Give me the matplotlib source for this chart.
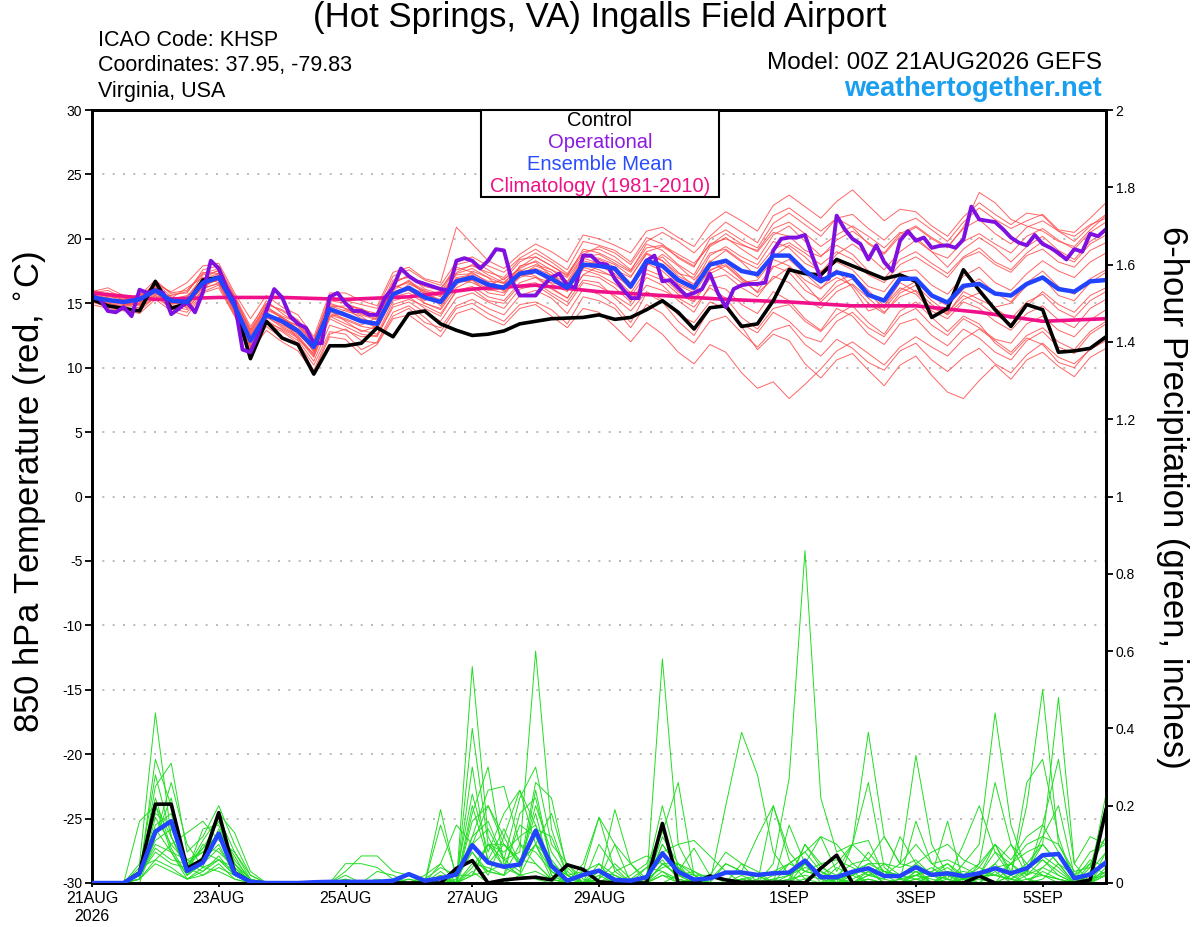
import numpy as np
import matplotlib
matplotlib.use('Agg')
import matplotlib.pyplot as plt
from matplotlib.patches import Rectangle

plt.rcParams['font.family'] = ['Liberation Sans', 'DejaVu Sans']

# ---- data: 6-hourly GEFS run from 00Z 21AUG2026 ----
step_hours = 6
op_step_hours = 3
clim_step_hours = 24

tick_days = [0, 2, 4, 6, 8, 11, 13, 15]
tick_labels = ['21AUG\n2026', '23AUG', '25AUG', '27AUG', '29AUG', '1SEP', '3SEP', '5SEP']

control_t = [
    15.3, 14.8, 14.6, 14.4, 16.7, 14.6, 15.0, 16.8, 17.0, 14.9, 10.7, 13.6, 12.3,
    11.8, 9.5, 11.7, 11.7, 11.9, 13.1, 12.4, 14.2, 14.4, 13.4, 12.9, 12.5, 12.6,
    12.85, 13.4, 13.6, 13.8, 13.85, 13.9, 14.1, 13.75, 13.9, 14.5, 15.2, 14.3, 13.0,
    14.65, 14.8, 13.2, 13.4, 15.2, 17.6, 17.3, 17.2, 18.4, 17.9, 17.4, 16.9, 17.2,
    16.7, 13.9, 14.6, 17.6, 16.0, 14.5, 13.2, 14.9, 14.5, 11.2, 11.3, 11.5, 12.4]

mean_t = [
    15.45, 15.25, 15.1, 15.3, 16.0, 15.2, 15.1, 16.6, 17.0, 14.8, 12.1, 14.1, 13.6,
    12.85, 11.6, 14.55, 14.1, 13.6, 13.4, 15.7, 16.2, 15.45, 15.1, 16.7, 17.0, 16.45,
    16.2, 17.3, 17.5, 16.9, 16.2, 18.0, 17.9, 17.7, 16.3, 18.3, 17.9, 16.8, 16.2,
    18.0, 18.3, 17.5, 17.25, 18.7, 18.7, 17.5, 16.7, 17.4, 17.1, 15.65, 15.2, 16.9,
    16.9, 15.6, 15.05, 16.35, 16.5, 15.75, 15.6, 16.5, 17.0, 16.1, 15.9, 16.7, 16.8]

# operational run is 3-hourly
oper_t = [
    15.6, 15.3, 14.4, 14.3, 14.7, 14.0, 16.05, 15.8, 16.0, 15.8, 14.15, 14.6, 15.1, 14.3, 15.85, 18.3,
    17.7, 16.2, 15.1, 11.4, 11.2, 12.6, 14.4, 16.1, 15.45, 14.0, 13.4, 13.1, 11.9, 11.9, 15.5, 15.8,
    15.0, 14.4, 14.4, 14.1, 14.1, 15.45, 16.2, 17.7, 17.1, 16.7, 16.5, 16.3, 16.1, 16.0, 18.3, 18.5,
    18.3, 17.7, 18.3, 19.2, 19.1, 16.75, 15.6, 15.6, 15.6, 16.4, 17.0, 17.3, 16.4, 16.2, 18.7, 18.7,
    18.1, 18.0, 16.9, 16.1, 15.4, 15.4, 18.3, 18.7, 16.7, 16.8, 16.2, 15.6, 15.8, 16.1, 17.3, 15.8,
    14.7, 16.1, 16.4, 16.5, 16.5, 16.6, 19.1, 20.0, 20.1, 20.1, 20.3, 18.55, 16.9, 16.9, 21.8, 20.75,
    20.0, 19.6, 18.4, 19.5, 18.2, 17.5, 19.85, 20.6, 19.85, 20.1, 19.3, 19.45, 19.5, 19.3, 19.95, 22.5,
    21.5, 21.4, 21.3, 20.75, 20.1, 19.7, 19.5, 20.3, 19.6, 19.3, 18.9, 18.4, 19.2, 19.0, 20.4, 20.2,
    20.75]

# climatology, daily
clim_t = [15.8, 15.3, 15.45, 15.45, 15.3, 15.5, 16.1, 16.4, 15.9, 15.6, 15.3,
          15.1, 14.8, 14.8, 14.3, 13.6, 13.8]

members_t = [
    [15.6, 15.8, 15.2, 15.0, 16.3, 15.0, 15.4, 17.2, 17.5, 15.2, 12.6, 14.6, 13.9,
     13.0, 11.2, 13.9, 14.5, 14.2, 13.8, 16.5, 17.2, 16.1, 15.7, 17.4, 18.0, 17.2,
     16.6, 17.8, 18.6, 17.9, 17.1, 19.2, 18.9, 18.3, 17.5, 19.6, 19.1, 18.0, 17.2,
     19.4, 20.1, 19.2, 18.4, 20.3, 21.0, 19.8, 18.7, 19.5, 18.8, 17.5, 16.9, 18.4,
     19.0, 18.1, 17.3, 18.6, 19.3, 18.2, 17.6, 18.9, 19.8, 18.7, 18.2, 19.6, 20.3],
    [15.2, 14.9, 14.6, 14.4, 15.5, 14.6, 14.3, 15.9, 16.4, 14.1, 11.3, 13.4, 12.8,
     11.9, 10.2, 12.8, 12.6, 11.4, 12.0, 14.3, 14.8, 13.9, 12.8, 14.6, 15.0, 14.2,
     13.6, 14.9, 15.1, 14.5, 13.4, 15.5, 15.2, 14.6, 13.1, 14.9, 14.2, 12.8, 11.9,
     13.6, 14.0, 12.7, 11.6, 12.9, 13.3, 11.8, 10.9, 12.2, 11.5, 10.4, 9.8, 11.3,
     11.9, 10.6, 9.7, 10.8, 11.5, 10.3, 9.6, 11.0, 11.9, 10.8, 10.3, 11.4, 12.1],
    [15.8, 15.5, 15.4, 15.6, 16.8, 15.7, 15.8, 17.6, 17.9, 15.6, 13.2, 15.0, 14.4,
     13.6, 12.1, 15.3, 15.2, 14.9, 14.6, 17.1, 17.6, 16.8, 16.4, 18.2, 18.6, 17.9,
     17.4, 18.5, 19.2, 18.4, 17.6, 19.8, 19.5, 19.1, 18.2, 20.1, 19.6, 18.5, 17.8,
     20.0, 20.7, 19.9, 19.3, 21.2, 22.0, 21.1, 20.2, 21.6, 21.9, 20.8, 19.9, 21.1,
     21.6, 20.7, 19.8, 21.3, 22.4, 21.5, 20.8, 21.4, 21.9, 20.7, 20.5, 21.6, 22.8],
    [15.0, 15.3, 15.0, 14.8, 16.0, 15.4, 16.2, 17.0, 16.6, 14.5, 11.8, 13.8, 13.9,
     13.2, 11.9, 14.9, 14.6, 13.8, 13.5, 16.0, 16.8, 15.7, 15.3, 17.0, 17.2, 16.4,
     16.9, 17.6, 17.1, 16.2, 15.4, 17.2, 17.9, 17.3, 16.1, 18.0, 18.6, 17.4, 16.3,
     17.5, 18.2, 17.0, 15.8, 16.9, 17.8, 16.5, 15.1, 16.3, 16.9, 15.8, 14.6, 16.0,
     16.7, 15.5, 14.8, 16.1, 16.9, 15.8, 15.1, 16.6, 17.5, 16.3, 15.7, 16.9, 17.6],
    [15.4, 15.0, 14.8, 15.2, 15.8, 14.9, 14.7, 16.4, 17.2, 15.0, 12.4, 14.4, 13.2,
     12.5, 11.0, 14.2, 13.8, 13.3, 13.9, 16.4, 16.0, 15.2, 15.8, 17.8, 17.4, 16.6,
     16.0, 17.9, 18.2, 17.1, 16.4, 18.5, 18.1, 17.6, 17.0, 18.9, 18.3, 17.1, 16.5,
     18.7, 19.4, 18.6, 18.0, 19.8, 19.3, 18.1, 17.5, 18.2, 17.6, 16.3, 15.9, 17.4,
     17.6, 16.4, 15.7, 17.1, 17.8, 16.6, 16.0, 17.3, 18.3, 17.5, 17.0, 18.2, 18.9],
    [15.9, 16.2, 15.6, 15.5, 16.5, 15.9, 16.6, 17.9, 18.1, 15.8, 13.8, 15.6, 14.7,
     14.1, 12.4, 15.8, 15.8, 15.2, 14.8, 17.4, 17.8, 16.9, 16.6, 20.9, 19.6, 18.3,
     17.7, 18.8, 19.6, 19.0, 18.2, 20.3, 20.0, 19.5, 18.9, 20.6, 20.9, 20.1, 19.4,
     21.2, 22.1, 21.4, 20.6, 22.6, 23.4, 22.5, 21.6, 22.9, 23.8, 22.6, 21.4, 22.3,
     22.1, 21.0, 20.2, 21.7, 22.8, 21.9, 21.1, 22.0, 21.8, 20.6, 19.8, 21.0, 21.9],
    [15.3, 15.1, 14.9, 14.6, 15.6, 15.2, 14.9, 16.2, 16.5, 14.2, 11.6, 13.2, 12.3,
     11.8, 9.8, 12.6, 13.0, 12.1, 11.9, 14.0, 14.6, 13.5, 13.1, 14.8, 15.3, 14.6,
     14.1, 15.6, 16.0, 15.4, 14.2, 16.1, 15.7, 14.9, 13.5, 15.8, 15.1, 13.6, 12.5,
     14.6, 15.0, 13.2, 11.4, 12.6, 12.1, 10.3, 9.2, 10.6, 11.1, 9.8, 8.6, 10.2,
     10.9, 9.4, 8.1, 7.6, 9.0, 10.2, 9.1, 10.6, 11.2, 10.1, 9.3, 10.8, 11.5],
    [15.1, 14.7, 14.5, 14.2, 15.3, 14.4, 14.0, 15.8, 16.2, 14.0, 11.2, 12.9, 12.0,
     11.3, 9.6, 12.4, 12.2, 11.0, 11.8, 13.8, 14.1, 13.2, 12.4, 14.2, 14.6, 13.8,
     13.3, 14.6, 14.9, 14.0, 13.1, 14.6, 14.3, 13.2, 12.0, 13.5, 12.6, 11.2, 10.3,
     11.8, 11.2, 9.6, 8.4, 8.9, 7.6, 8.7, 9.9, 11.3, 12.0, 11.1, 10.2, 11.6,
     12.4, 11.6, 10.9, 12.2, 13.0, 12.1, 11.2, 12.5, 13.1, 12.0, 11.4, 12.8, 13.6],
    [15.5, 15.6, 15.3, 15.7, 16.2, 15.3, 15.5, 16.9, 17.3, 15.1, 12.2, 14.2, 13.5,
     12.7, 11.4, 14.8, 14.4, 14.0, 13.0, 15.4, 16.5, 15.9, 14.8, 16.4, 17.5, 17.0,
     15.9, 17.1, 17.9, 17.4, 16.0, 17.7, 18.4, 17.8, 16.6, 17.9, 18.8, 17.9, 16.8,
     18.2, 19.1, 18.2, 17.0, 18.6, 19.5, 18.6, 17.4, 18.8, 19.6, 18.7, 17.6, 19.0,
     19.9, 19.0, 17.8, 19.2, 20.1, 19.3, 18.2, 19.4, 20.2, 19.1, 18.4, 19.8, 20.6],
    [15.7, 15.4, 15.1, 15.3, 16.6, 15.5, 14.6, 16.0, 17.4, 15.4, 12.9, 14.8, 13.8,
     12.2, 11.1, 14.5, 13.6, 12.8, 13.2, 15.9, 16.3, 15.0, 14.6, 16.6, 16.8, 15.8,
     15.6, 17.3, 17.6, 16.5, 15.9, 18.0, 17.6, 17.0, 15.8, 17.6, 17.1, 15.9, 15.2,
     17.3, 17.9, 16.8, 15.9, 17.8, 18.4, 17.3, 16.2, 17.0, 16.4, 15.0, 14.2, 15.8,
     16.4, 15.2, 14.3, 15.6, 15.0, 14.1, 13.4, 14.8, 15.9, 14.9, 14.3, 15.6, 16.2],
    [15.2, 15.5, 15.5, 15.1, 16.1, 15.1, 15.2, 16.8, 16.9, 14.6, 11.9, 14.0, 13.7,
     13.3, 11.8, 14.3, 14.0, 13.6, 13.1, 15.6, 16.2, 15.8, 15.1, 16.9, 17.1, 16.2,
     16.4, 17.4, 17.7, 17.2, 16.6, 18.3, 18.0, 17.5, 16.2, 18.1, 17.5, 16.4, 15.8,
     17.6, 18.0, 16.9, 16.3, 17.9, 17.4, 16.0, 15.3, 16.7, 17.2, 16.0, 14.8, 16.2,
     15.7, 14.4, 13.8, 15.1, 14.6, 13.6, 12.9, 14.2, 14.8, 13.7, 13.1, 14.6, 15.3],
    [16.0, 15.7, 15.0, 14.9, 15.7, 15.6, 15.9, 17.3, 17.7, 15.5, 13.0, 15.2, 14.2,
     13.4, 12.0, 15.6, 15.0, 14.5, 14.2, 16.8, 17.0, 16.3, 16.0, 18.0, 18.3, 17.6,
     16.8, 18.2, 18.9, 18.2, 17.3, 19.0, 19.2, 18.6, 17.6, 19.3, 19.5, 18.8, 18.1,
     19.5, 20.4, 19.6, 19.0, 20.5, 20.2, 19.1, 18.6, 19.9, 20.6, 19.7, 18.9, 20.4,
     21.0, 20.1, 19.4, 20.8, 21.5, 20.4, 19.6, 20.9, 21.4, 20.6, 20.2, 21.1, 21.6],
    [15.3, 15.0, 15.2, 15.4, 16.4, 15.0, 15.0, 16.5, 16.8, 14.7, 12.0, 14.2, 13.4,
     12.6, 11.5, 14.4, 14.2, 13.7, 13.5, 15.8, 16.0, 15.4, 15.2, 16.8, 16.6, 16.0,
     16.1, 17.2, 17.0, 16.6, 16.3, 17.8, 17.4, 17.1, 16.4, 18.4, 17.8, 16.5, 16.0,
     18.3, 17.5, 16.6, 16.8, 18.4, 17.9, 16.8, 16.1, 17.6, 16.2, 14.4, 14.8, 16.6,
     15.9, 14.6, 14.2, 15.9, 15.3, 14.7, 15.0, 16.4, 17.0, 15.6, 15.2, 16.6, 17.4],
    [15.6, 15.2, 14.9, 15.0, 15.9, 15.3, 15.6, 16.7, 17.1, 14.9, 12.3, 14.0, 13.1,
     12.4, 10.9, 14.0, 13.4, 12.9, 12.6, 15.2, 15.5, 14.6, 14.0, 16.0, 16.3, 15.5,
     15.2, 16.6, 17.0, 16.1, 15.4, 17.2, 17.0, 16.2, 15.1, 17.0, 16.4, 15.2, 14.3,
     16.4, 16.1, 14.9, 14.2, 15.9, 15.2, 13.8, 12.9, 14.6, 14.0, 12.6, 11.8, 13.4,
     13.8, 12.5, 11.7, 13.0, 12.3, 11.2, 10.6, 12.1, 12.8, 11.6, 11.1, 12.6, 13.4],
    [15.4, 15.3, 15.2, 15.5, 16.2, 15.2, 15.3, 16.6, 17.1, 15.0, 12.5, 14.5, 13.9,
     13.0, 11.7, 14.7, 14.8, 14.6, 13.9, 16.2, 16.7, 16.0, 15.5, 17.3, 17.7, 17.0,
     16.5, 17.5, 18.0, 17.6, 17.0, 18.6, 18.5, 18.0, 17.1, 18.8, 18.3, 17.3, 17.0,
     18.9, 19.2, 18.3, 17.7, 19.2, 19.7, 18.9, 18.0, 19.0, 18.4, 17.2, 16.6, 18.0,
     18.6, 17.8, 17.0, 18.5, 19.0, 18.0, 17.4, 18.7, 19.2, 18.2, 17.8, 19.1, 19.7],
    [14.9, 14.6, 14.4, 14.7, 15.4, 14.8, 14.5, 16.1, 16.6, 14.4, 11.5, 13.7, 12.9,
     12.1, 10.5, 13.3, 12.9, 12.4, 12.5, 14.7, 15.1, 14.3, 13.6, 15.4, 15.8, 15.1,
     14.6, 16.1, 16.4, 15.6, 14.8, 16.6, 16.3, 15.6, 14.8, 16.4, 16.0, 15.4, 14.7,
     16.2, 15.4, 13.9, 13.0, 14.6, 14.9, 13.6, 12.8, 14.1, 14.8, 13.5, 12.6, 14.4,
     15.1, 13.9, 12.8, 14.0, 13.4, 11.9, 11.0, 12.3, 11.8, 10.4, 10.0, 11.5, 12.2],
    [15.8, 16.0, 15.4, 15.1, 16.7, 15.8, 16.0, 17.4, 17.3, 15.3, 12.8, 14.9, 14.5,
     13.7, 12.2, 15.2, 15.0, 14.4, 14.0, 16.6, 17.1, 16.5, 16.2, 17.6, 17.9, 17.4,
     17.0, 18.4, 18.6, 17.9, 17.2, 18.8, 19.4, 18.9, 18.0, 19.8, 20.5, 19.8, 18.9,
     20.2, 21.3, 20.5, 19.7, 21.8, 22.4, 21.5, 20.6, 21.6, 20.9, 19.6, 18.8, 20.2,
     20.9, 20.0, 19.3, 20.9, 23.6, 22.8, 21.5, 21.0, 20.6, 19.8, 19.4, 20.7, 21.8],
    [15.1, 15.4, 15.0, 14.9, 15.6, 14.7, 14.8, 16.3, 16.9, 14.3, 11.7, 13.5, 13.0,
     12.3, 10.8, 13.8, 13.2, 12.6, 12.4, 14.9, 15.3, 14.8, 14.2, 15.9, 16.1, 15.2,
     15.0, 16.4, 16.6, 15.8, 15.1, 16.8, 16.6, 15.4, 14.4, 15.9, 15.3, 14.1, 13.5,
     15.1, 14.6, 13.4, 12.7, 14.3, 13.6, 12.4, 12.0, 13.6, 14.3, 13.1, 12.4, 14.0,
     14.6, 13.3, 12.5, 13.8, 13.1, 12.2, 11.9, 13.4, 14.0, 12.9, 12.4, 13.7, 14.5],
    [15.5, 15.2, 15.3, 15.6, 16.3, 15.4, 15.1, 16.9, 17.6, 15.4, 12.7, 14.7, 14.0,
     13.5, 11.9, 15.0, 14.6, 14.1, 13.7, 16.2, 16.6, 15.9, 15.6, 17.2, 17.3, 16.7,
     16.6, 17.7, 18.3, 17.6, 16.7, 18.6, 18.8, 18.1, 17.4, 19.0, 19.4, 18.6, 17.9,
     19.6, 20.0, 19.5, 19.1, 20.8, 21.3, 20.4, 19.4, 20.3, 21.0, 20.2, 19.3, 20.5,
     20.1, 19.0, 18.5, 19.8, 20.4, 19.6, 18.9, 20.2, 20.8, 19.9, 19.2, 20.5, 21.3],
    [15.2, 15.0, 14.7, 15.0, 15.8, 15.0, 14.9, 16.4, 16.8, 14.6, 12.0, 13.9, 13.3,
     12.7, 11.3, 14.1, 13.7, 13.2, 13.0, 15.5, 15.8, 15.0, 14.5, 16.2, 16.8, 16.1,
     15.8, 17.0, 17.4, 16.8, 16.0, 17.6, 17.2, 16.5, 15.5, 17.3, 16.8, 15.7, 15.1,
     16.9, 17.2, 16.2, 15.5, 17.1, 16.6, 15.3, 14.6, 15.9, 16.5, 15.4, 14.3, 15.5,
     16.0, 14.9, 14.1, 15.3, 15.8, 14.6, 13.8, 15.1, 15.7, 14.5, 13.9, 15.2, 15.9],
]

control_p = [
    0, 0, 0, 0.027, 0.204, 0.204, 0.038, 0.061, 0.182, 0.027, 0.003, 0, 0,
    0, 0, 0, 0, 0, 0, 0, 0, 0, 0, 0.038, 0.058, 0,
    0.008, 0.012, 0.015, 0.008, 0.047, 0.035, 0.003, 0, 0, 0, 0.154, 0, 0,
    0.018, 0.008, 0.002, 0.002, 0.002, 0.002, 0, 0.038, 0.072, 0, 0, 0, 0,
    0, 0, 0, 0, 0.018, 0, 0, 0, 0, 0, 0, 0.008, 0.19]

mean_p = [
    0, 0, 0, 0.025, 0.133, 0.16, 0.031, 0.053, 0.128, 0.025, 0.003, 0, 0,
    0, 0.002, 0.003, 0.003, 0.003, 0.003, 0.006, 0.023, 0.006, 0.012, 0.022, 0.098, 0.053,
    0.042, 0.048, 0.135, 0.044, 0.006, 0.021, 0.032, 0.008, 0.006, 0.015, 0.077, 0.029, 0.009,
    0.012, 0.027, 0.027, 0.021, 0.025, 0.027, 0.058, 0.015, 0.015, 0.029, 0.038, 0.018, 0.018,
    0.041, 0.021, 0.025, 0.018, 0.025, 0.038, 0.025, 0.038, 0.072, 0.075, 0.012, 0.022, 0.053]

members_p = [
    [0, 0, 0, 0.05, 0.44, 0.12, 0.03, 0.06, 0.1, 0.02, 0, 0, 0,
     0, 0, 0, 0, 0, 0, 0, 0, 0, 0, 0, 0.56, 0.12,
     0.04, 0.02, 0.01, 0, 0.05, 0.01, 0, 0, 0, 0.02, 0.06, 0.01, 0,
     0, 0, 0, 0.02, 0, 0, 0.01, 0.03, 0, 0, 0.01, 0, 0,
     0, 0.02, 0.01, 0, 0, 0.04, 0.01, 0, 0.03, 0.01, 0, 0, 0.02],
    [0, 0, 0, 0.02, 0.32, 0.2, 0.04, 0.09, 0.16, 0.05, 0, 0, 0,
     0, 0, 0, 0, 0, 0, 0, 0.01, 0, 0.05, 0, 0.02, 0.1,
     0.06, 0.08, 0.6, 0.14, 0.02, 0, 0.03, 0, 0, 0, 0, 0.02, 0,
     0, 0, 0.01, 0, 0, 0, 0, 0, 0.04, 0.02, 0, 0, 0.01,
     0, 0, 0.03, 0, 0.01, 0, 0, 0.02, 0.06, 0.02, 0, 0.03, 0.08],
    [0, 0, 0, 0.01, 0.25, 0.31, 0.08, 0.12, 0.2, 0.1, 0.02, 0, 0,
     0, 0, 0, 0, 0, 0, 0, 0, 0, 0, 0.01, 0.08, 0.03,
     0.02, 0.05, 0.1, 0.03, 0, 0.05, 0.17, 0.1, 0.05, 0, 0.58, 0.1, 0.02,
     0, 0, 0.01, 0, 0, 0, 0, 0, 0, 0.03, 0, 0, 0,
     0.02, 0, 0, 0.01, 0, 0, 0.05, 0.01, 0, 0, 0, 0, 0.04],
    [0, 0, 0, 0.03, 0.18, 0.15, 0.05, 0.03, 0.07, 0.02, 0, 0, 0,
     0, 0, 0, 0.02, 0, 0, 0, 0, 0, 0, 0, 0.3, 0.05,
     0.1, 0.06, 0.05, 0.01, 0, 0, 0, 0.01, 0.01, 0.04, 0.03, 0, 0.01,
     0, 0, 0, 0, 0.05, 0.27, 0.86, 0.22, 0.08, 0.1, 0.11, 0.02, 0,
     0.03, 0, 0.01, 0, 0.02, 0, 0.02, 0, 0.01, 0.05, 0, 0, 0.06],
    [0, 0, 0, 0.02, 0.1, 0.08, 0.02, 0.05, 0.14, 0.06, 0.01, 0, 0,
     0, 0, 0, 0.01, 0, 0, 0, 0, 0, 0.02, 0, 0.18, 0.3,
     0.05, 0.02, 0.1, 0.01, 0, 0, 0, 0.03, 0, 0, 0.05, 0.02, 0.03,
     0, 0.2, 0.39, 0.28, 0.08, 0.02, 0, 0, 0.01, 0, 0, 0, 0,
     0.03, 0, 0, 0.05, 0.1, 0.44, 0.15, 0.03, 0.02, 0.01, 0, 0.02, 0.05],
    [0, 0, 0, 0, 0.12, 0.26, 0.1, 0.04, 0.06, 0.03, 0, 0, 0,
     0, 0, 0, 0, 0, 0, 0, 0.01, 0, 0.19, 0.01, 0.12, 0.24,
     0.25, 0.1, 0.08, 0.03, 0.01, 0, 0, 0, 0, 0, 0.12, 0.05, 0,
     0.02, 0.01, 0, 0, 0, 0, 0.05, 0.12, 0.03, 0.1, 0.39, 0.12, 0.05,
     0.04, 0, 0, 0.02, 0.05, 0.1, 0.02, 0.2, 0.5, 0.1, 0.02, 0, 0.08],
    [0, 0, 0, 0.01, 0.2, 0.12, 0.03, 0.1, 0.08, 0.04, 0, 0, 0,
     0, 0, 0, 0, 0, 0, 0, 0, 0.02, 0.05, 0.15, 0.1, 0.2,
     0.12, 0.24, 0.15, 0.02, 0, 0.03, 0.05, 0, 0, 0.02, 0.2, 0.04, 0,
     0, 0.05, 0.03, 0.12, 0.2, 0.06, 0.01, 0, 0.02, 0.05, 0.06, 0.12, 0.05,
     0.33, 0.1, 0.02, 0, 0.02, 0.05, 0, 0.03, 0.1, 0.48, 0.05, 0.12, 0.1],
    [0, 0, 0, 0.04, 0.06, 0.1, 0.13, 0.16, 0.11, 0.08, 0.02, 0, 0,
     0, 0, 0, 0, 0, 0, 0, 0, 0, 0, 0.02, 0.23, 0.08,
     0.18, 0.24, 0.1, 0.06, 0.01, 0, 0, 0, 0.02, 0.05, 0.13, 0.26, 0.02,
     0, 0, 0.01, 0, 0, 0, 0, 0, 0, 0, 0.03, 0, 0,
     0, 0.02, 0.16, 0, 0.05, 0.26, 0.1, 0.02, 0.15, 0.32, 0.05, 0, 0.02],
    [0, 0, 0, 0.02, 0.08, 0.05, 0.04, 0.02, 0.05, 0.01, 0, 0, 0,
     0, 0, 0, 0, 0, 0, 0, 0, 0, 0, 0, 0.12, 0.16,
     0.06, 0.22, 0.3, 0.1, 0.05, 0, 0.1, 0.04, 0, 0, 0.08, 0.1, 0.11,
     0.07, 0.03, 0, 0, 0, 0.15, 0.05, 0, 0, 0.1, 0.26, 0.04, 0.01,
     0.16, 0.05, 0.02, 0, 0, 0, 0.02, 0.26, 0.32, 0.12, 0, 0.02, 0.23],
    [0, 0, 0, 0.03, 0.22, 0.09, 0.02, 0.07, 0.12, 0.05, 0.01, 0, 0,
     0, 0, 0, 0, 0, 0.01, 0, 0, 0.01, 0.04, 0.02, 0.08, 0.02,
     0.12, 0.04, 0.26, 0.22, 0.03, 0, 0.01, 0.05, 0.01, 0, 0.02, 0, 0,
     0, 0, 0.02, 0, 0.2, 0.08, 0.03, 0.02, 0, 0, 0.02, 0.03, 0.01,
     0.02, 0.04, 0.01, 0.1, 0.2, 0.08, 0.02, 0.05, 0.1, 0.05, 0, 0.04, 0.19],
    [0, 0, 0, 0.16, 0.2, 0.08, 0.06, 0.04, 0.18, 0.13, 0.03, 0, 0,
     0, 0, 0, 0, 0, 0, 0, 0, 0, 0.03, 0, 0.05, 0.04,
     0.02, 0.18, 0.22, 0.05, 0.02, 0, 0.01, 0.1, 0, 0, 0.05, 0.02, 0.01,
     0, 0, 0, 0, 0, 0.02, 0.04, 0.03, 0.01, 0, 0.02, 0.01, 0,
     0.02, 0.03, 0.05, 0.02, 0, 0.05, 0.1, 0.05, 0.02, 0, 0, 0.05, 0.02],
    [0, 0, 0, 0.02, 0.15, 0.18, 0.02, 0.05, 0.09, 0.03, 0, 0, 0,
     0, 0, 0, 0.03, 0.07, 0.07, 0.03, 0.02, 0, 0.01, 0, 0.16, 0.2,
     0.1, 0.05, 0.18, 0.02, 0, 0, 0.03, 0.02, 0, 0.04, 0.07, 0.03, 0.09,
     0.02, 0, 0, 0, 0.01, 0, 0.03, 0.05, 0.06, 0.04, 0.02, 0.05, 0.04,
     0.06, 0.02, 0, 0.01, 0.03, 0.02, 0.05, 0.02, 0.04, 0.08, 0.01, 0.06, 0.04],
    [0, 0, 0, 0.01, 0.05, 0.03, 0.01, 0.02, 0.04, 0.02, 0, 0, 0,
     0, 0, 0, 0, 0, 0.03, 0.02, 0, 0, 0.15, 0.02, 0.02, 0.1,
     0.04, 0.15, 0.12, 0.03, 0, 0, 0.01, 0.19, 0.05, 0.01, 0.08, 0.03, 0.02,
     0.02, 0.08, 0.05, 0, 0.02, 0.05, 0.03, 0.02, 0.05, 0.1, 0.06, 0.02, 0.05,
     0.1, 0.05, 0.06, 0.04, 0.02, 0.08, 0.05, 0.1, 0.12, 0.1, 0.03, 0.04, 0.12],
    [0, 0, 0, 0.03, 0.12, 0.22, 0.03, 0.14, 0.15, 0.05, 0, 0, 0,
     0, 0, 0, 0, 0, 0, 0, 0, 0, 0, 0.03, 0.06, 0.03,
     0.05, 0.02, 0.24, 0.05, 0, 0, 0, 0, 0.01, 0, 0.05, 0.02, 0,
     0, 0, 0.05, 0.03, 0, 0, 0.1, 0.05, 0, 0.02, 0.08, 0.03, 0.02,
     0.05, 0.02, 0.03, 0.01, 0.04, 0.02, 0.01, 0.03, 0.12, 0.2, 0.02, 0.02, 0.05],
    [0, 0, 0, 0.02, 0.09, 0.06, 0.05, 0.08, 0.06, 0.02, 0, 0, 0,
     0, 0, 0, 0.05, 0.05, 0.04, 0.01, 0, 0, 0, 0, 0.04, 0.1,
     0.08, 0.12, 0.15, 0.04, 0.02, 0.03, 0.17, 0.03, 0.05, 0.07, 0.05, 0.05, 0.03,
     0.01, 0.05, 0.03, 0.02, 0.03, 0.05, 0.08, 0.12, 0.1, 0.05, 0.02, 0.01, 0.12,
     0.05, 0.08, 0.1, 0.06, 0.04, 0.1, 0.06, 0.12, 0.15, 0.08, 0.02, 0.05, 0.12],
    [0, 0, 0, 0.02, 0.14, 0.08, 0.01, 0.03, 0.06, 0.04, 0, 0, 0,
     0, 0, 0, 0, 0, 0, 0, 0, 0, 0, 0, 0.03, 0,
     0, 0.02, 0.03, 0.01, 0, 0, 0, 0, 0, 0, 0.03, 0.01, 0,
     0, 0, 0, 0, 0.01, 0.02, 0.05, 0.02, 0, 0.01, 0.03, 0, 0,
     0.01, 0, 0.02, 0.01, 0, 0.03, 0, 0.01, 0.02, 0.01, 0, 0, 0.03],
    [0, 0, 0, 0.03, 0.28, 0.12, 0.04, 0.11, 0.17, 0.08, 0.01, 0, 0,
     0, 0, 0, 0, 0, 0, 0, 0, 0, 0.02, 0, 0.1, 0.14,
     0.06, 0.03, 0.14, 0.12, 0.02, 0, 0.02, 0, 0, 0, 0.1, 0.04, 0.01,
     0, 0, 0, 0, 0, 0.01, 0.1, 0.04, 0.02, 0.03, 0.05, 0.05, 0.02,
     0.01, 0.02, 0.05, 0.01, 0.02, 0.1, 0.03, 0.04, 0.07, 0.04, 0, 0.02, 0.06],
    [0, 0, 0, 0.01, 0.06, 0.04, 0.01, 0.04, 0.03, 0.01, 0, 0, 0,
     0, 0, 0, 0, 0, 0, 0, 0, 0, 0, 0, 0.02, 0.03,
     0.02, 0.1, 0.05, 0.01, 0, 0, 0, 0, 0, 0, 0.02, 0.01, 0,
     0, 0, 0, 0, 0, 0.01, 0.02, 0.01, 0, 0.02, 0.04, 0, 0.01,
     0.02, 0.01, 0, 0.01, 0.02, 0.02, 0.01, 0, 0.04, 0.02, 0, 0.01, 0.02],
    [0, 0, 0, 0.02, 0.11, 0.14, 0.06, 0.08, 0.13, 0.07, 0, 0, 0,
     0, 0, 0, 0, 0, 0, 0, 0.02, 0, 0, 0, 0.2, 0.06,
     0.14, 0.05, 0.1, 0.18, 0.04, 0, 0, 0.02, 0, 0.01, 0.04, 0.05, 0.02,
     0, 0, 0, 0.01, 0.03, 0.02, 0.05, 0.02, 0.01, 0.02, 0.05, 0.03, 0.02,
     0.03, 0.02, 0.04, 0.01, 0.03, 0.04, 0.05, 0.08, 0.1, 0.05, 0.02, 0.08, 0.1],
    [0, 0, 0, 0.01, 0.17, 0.1, 0.05, 0.09, 0.12, 0.04, 0, 0, 0,
     0, 0, 0, 0.01, 0, 0, 0, 0, 0, 0.01, 0, 0.4, 0.1,
     0.1, 0.05, 0.2, 0.08, 0.02, 0, 0.05, 0.02, 0, 0, 0.1, 0.04, 0,
     0, 0, 0.01, 0.02, 0, 0.05, 0.08, 0.03, 0.01, 0, 0.01, 0, 0,
     0.01, 0, 0.02, 0.03, 0.02, 0.02, 0.01, 0.04, 0.06, 0.03, 0, 0.01, 0.03],
]

hours = np.arange(len(mean_t)) * step_hours
op_hours = np.arange(len(oper_t)) * op_step_hours
clim_hours = np.arange(len(clim_t)) * clim_step_hours

# ---- figure ----
W, H = 1200, 927
fig = plt.figure(figsize=(W / 100, H / 100), dpi=100)
ax = fig.add_axes([92 / W, 1 - 883 / H, (1106 - 92) / W, (883 - 110) / H])
ax2 = ax.twinx()

for m in members_t:
    ax.plot(hours, m, color='#ff4a4a', lw=0.7, alpha=0.85, zorder=2)
ax.plot(clim_hours, clim_t, color='#f0108a', lw=2.6, zorder=3)
ax.plot(hours, control_t, color='black', lw=2.6, zorder=4)
ax.plot(op_hours, oper_t, color='#7f10e0', lw=2.8, zorder=5)
ax.plot(hours, mean_t, color='#2244ff', lw=3.2, zorder=6)

for m in members_p:
    ax2.plot(hours, m, color='#22dd22', lw=0.7, zorder=2)
ax2.plot(hours, control_p, color='black', lw=2.6, zorder=4)
ax2.plot(hours, mean_p, color='#2244ff', lw=3.2, zorder=5)

ax.set_xlim(0, hours[-1])
ax.set_ylim(-30, 30)
ax2.set_ylim(0, 2)

ax.set_yticks(np.arange(-30, 31, 5))
ax.set_yticklabels([str(v) for v in range(-30, 31, 5)])
p_ticks = np.round(np.arange(0, 2.01, 0.2), 1)
ax2.set_yticks(p_ticks)
ax2.set_yticklabels(['%g' % v for v in p_ticks])

ax.set_xticks([d * 24 for d in tick_days])
ax.set_xticklabels(tick_labels)

for a in (ax, ax2):
    a.tick_params(direction='out', length=5, width=1.3, labelsize=10, pad=2)
    for s in a.spines.values():
        s.set_linewidth(2)
ax.tick_params(axis='x', labelsize=11.5, length=3, pad=3)

# dotted horizontal grid
for v in range(-25, 30, 5):
    ax.axhline(v, color='#b0b0b0', lw=1.2, linestyle=(0, (1.2, 5)), zorder=1)

# ---- text ----
fig.text(600 / W, 1 - 18 / H, '(Hot Springs, VA) Ingalls Field Airport',
         ha='center', va='center', fontsize=25)
fig.text(98 / W, 1 - 40 / H, 'ICAO Code: KHSP', va='center', fontsize=15.5)
fig.text(98 / W, 1 - 66 / H, 'Coordinates: 37.95, -79.83', va='center', fontsize=15.5)
fig.text(98 / W, 1 - 92 / H, 'Virginia, USA', va='center', fontsize=15.5)
fig.text(1102 / W, 1 - 63 / H, 'Model: 00Z 21AUG2026 GEFS', ha='right', va='center', fontsize=17.5)
fig.text(1102 / W, 1 - 89 / H, 'weathertogether.net', ha='right', va='center',
         fontsize=19.5, fontweight='bold', color='#1a9ff0')

fig.text(30 / W, 1 - 492 / H, '850 hPa Temperature (red, $^{\\circ}$C)', rotation=90,
         ha='center', va='center', fontsize=25)
fig.text(1172 / W, 1 - 497 / H, '6-hour Precipitation (green, inches)', rotation=270,
         ha='center', va='center', fontsize=25)

# legend box
rect = Rectangle((481 / W, 1 - 197 / H), (719 - 481) / W, (197 - 110) / H,
                 transform=fig.transFigure, facecolor='white', edgecolor='black', lw=1.5)
fig.add_artist(rect)
legend_items = [('Control', 'black'), ('Operational', '#8a1be0'),
                ('Ensemble Mean', '#2a4cff'), ('Climatology (1981-2010)', '#f01287')]
for k, (name, col) in enumerate(legend_items):
    fig.text(600 / W, 1 - (120 + 22 * k) / H, name, ha='center', va='center',
             fontsize=14.5, color=col)

fig.savefig('out.png', dpi=100)
